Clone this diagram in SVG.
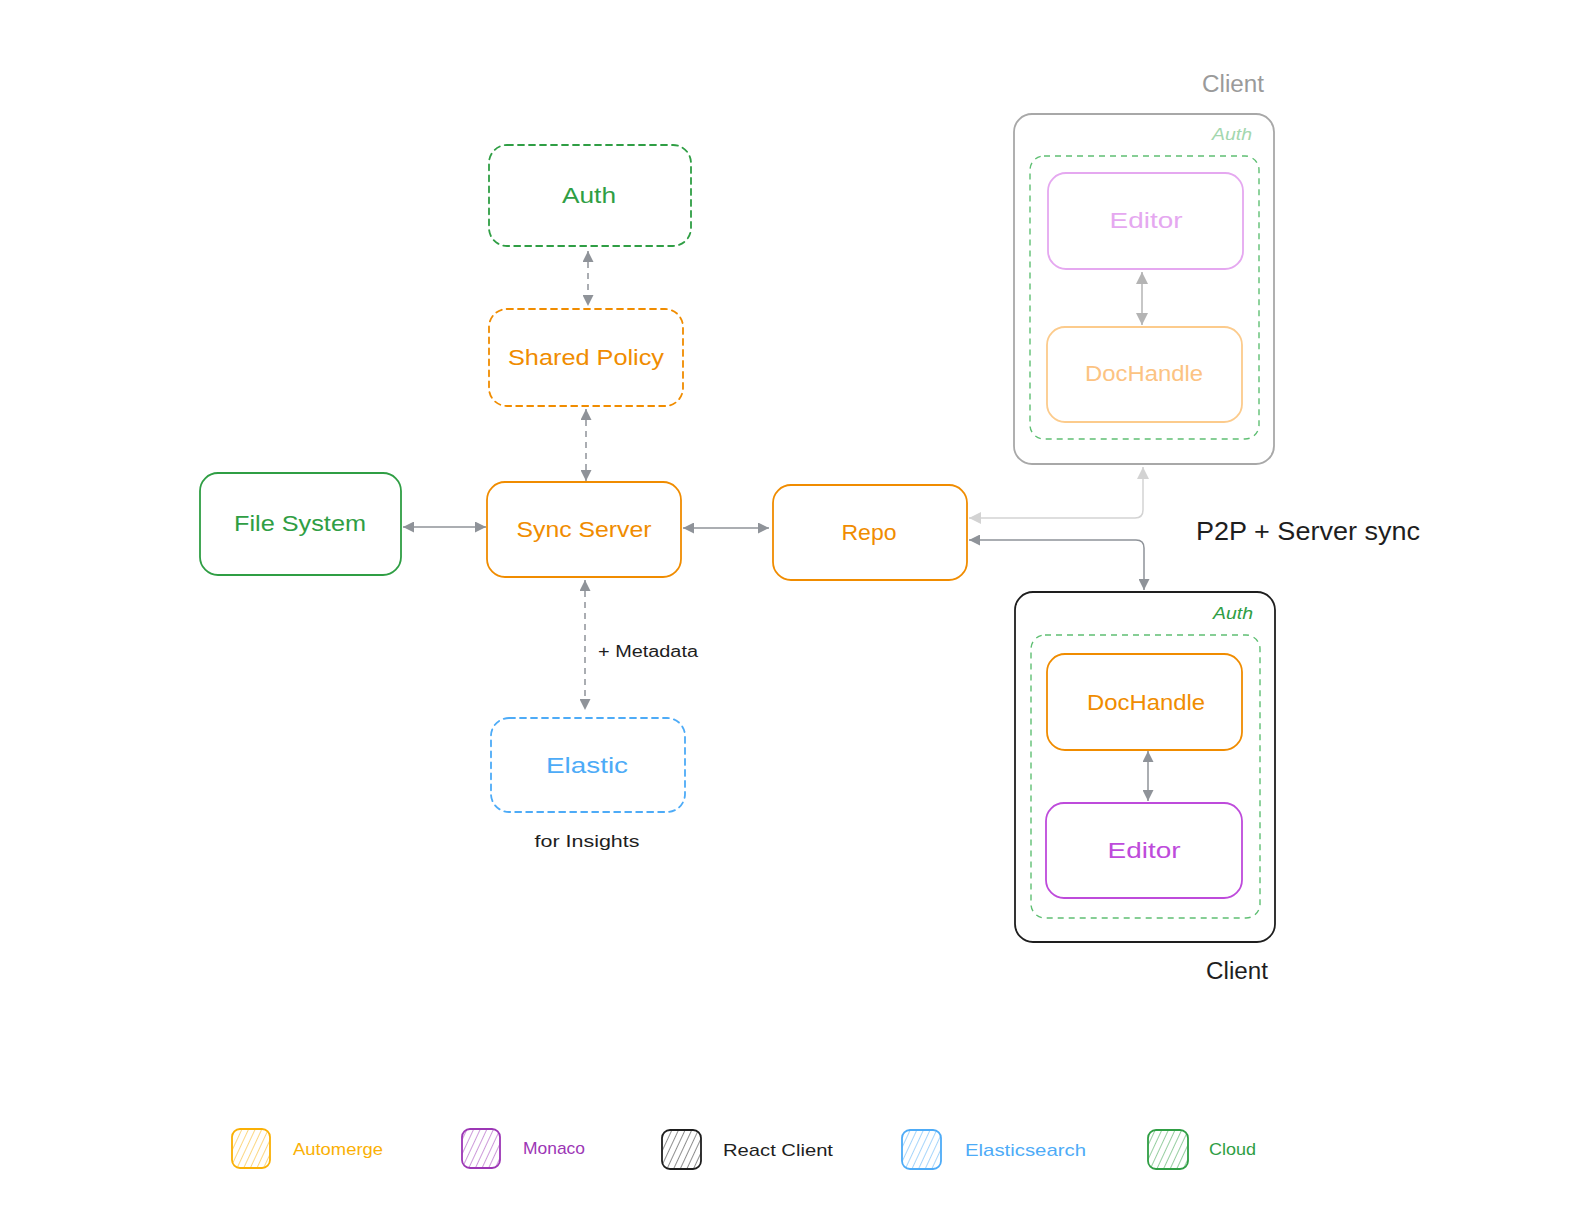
<svg xmlns="http://www.w3.org/2000/svg" width="1590" height="1219" viewBox="0 0 1590 1219">
<style>
text{font-family:"Liberation Sans","DejaVu Sans",sans-serif;text-anchor:middle;dominant-baseline:central}
.box{fill:none;stroke-width:1.8;stroke-linecap:round}
.dash{stroke-dasharray:6 5}
.orange{stroke:#f08c00}.t-orange{fill:#f08c00}
.green{stroke:#2f9e44}.t-green{fill:#2f9e44}
.blue{stroke:#4dabf7}.t-blue{fill:#4dabf7}
.purple{stroke:#be4bdb}.t-purple{fill:#be4bdb}
.lbl{font-size:22px}
.conn{fill:none;stroke:#8f9399;stroke-width:1.5}
.conn.light{stroke:#d3d3d3}
.conn.mid{stroke:#b4b4b4}
.leg{font-size:17px;text-anchor:start}
</style>
<defs>
<marker id="ah" viewBox="0 0 10 10" refX="10" refY="5" markerWidth="11" markerHeight="11" markerUnits="userSpaceOnUse" orient="auto-start-reverse"><path d="M0,0 L10,5 L0,10 z" fill="#8f9399"/></marker>
<marker id="ahl" viewBox="0 0 10 10" refX="10" refY="5" markerWidth="12" markerHeight="12" markerUnits="userSpaceOnUse" orient="auto-start-reverse"><path d="M0,0 L10,5 L0,10 z" fill="#d3d3d3"/></marker>
<marker id="ahm" viewBox="0 0 10 10" refX="10" refY="5" markerWidth="12" markerHeight="12" markerUnits="userSpaceOnUse" orient="auto-start-reverse"><path d="M0,0 L10,5 L0,10 z" fill="#b4b4b4"/></marker>
<pattern id="h-y" width="6" height="6" patternUnits="userSpaceOnUse" patternTransform="rotate(25)"><line x1="0" y1="0" x2="0" y2="6" stroke="#fab005" stroke-width="1"/></pattern>
<pattern id="h-p" width="6" height="6" patternUnits="userSpaceOnUse" patternTransform="rotate(25)"><line x1="0" y1="0" x2="0" y2="6" stroke="#9c36b5" stroke-width="1"/></pattern>
<pattern id="h-k" width="6" height="6" patternUnits="userSpaceOnUse" patternTransform="rotate(25)"><line x1="0" y1="0" x2="0" y2="6" stroke="#1e1e1e" stroke-width="1"/></pattern>
<pattern id="h-b" width="6" height="6" patternUnits="userSpaceOnUse" patternTransform="rotate(25)"><line x1="0" y1="0" x2="0" y2="6" stroke="#4dabf7" stroke-width="1"/></pattern>
<pattern id="h-g" width="6" height="6" patternUnits="userSpaceOnUse" patternTransform="rotate(25)"><line x1="0" y1="0" x2="0" y2="6" stroke="#2f9e44" stroke-width="1"/></pattern>
</defs>
<rect width="1590" height="1219" fill="#ffffff"/>

<g id="connectors">
<line class="conn dash" x1="588" y1="251" x2="588" y2="306" marker-start="url(#ah)" marker-end="url(#ah)"/>
<line class="conn dash" x1="586" y1="409" x2="586" y2="481" marker-start="url(#ah)" marker-end="url(#ah)"/>
<line class="conn" x1="403" y1="527" x2="486" y2="527" marker-start="url(#ah)" marker-end="url(#ah)"/>
<line class="conn" x1="683" y1="528" x2="769" y2="528" marker-start="url(#ah)" marker-end="url(#ah)"/>
<line class="conn dash" x1="585" y1="580" x2="585" y2="710" marker-start="url(#ah)" marker-end="url(#ah)"/>
<path class="conn light" d="M1143,467 L1143,510 Q1143,518 1135,518 L969,518" marker-start="url(#ahl)" marker-end="url(#ahl)"/>
<path class="conn" d="M969,540 L1136,540 Q1144,540 1144,548 L1144,590" marker-start="url(#ah)" marker-end="url(#ah)"/>
<line class="conn mid" x1="1142" y1="272" x2="1142" y2="325" stroke-width="2" marker-start="url(#ahm)" marker-end="url(#ahm)"/>
<line class="conn" x1="1148" y1="751" x2="1148" y2="801" stroke-width="2" marker-start="url(#ah)" marker-end="url(#ah)"/>
</g>

<g id="auth">
<rect class="box green dash" x="489" y="145" width="202" height="101" rx="18"/>
<text class="lbl t-green" x="589" y="195" textLength="54" lengthAdjust="spacingAndGlyphs">Auth</text>
</g>
<g id="shared-policy">
<rect class="box orange dash" x="489" y="309" width="194" height="97" rx="18"/>
<text class="lbl t-orange" x="586" y="357" textLength="156" lengthAdjust="spacingAndGlyphs">Shared Policy</text>
</g>
<g id="file-system">
<rect class="box green" x="200" y="473" width="201" height="102" rx="18"/>
<text class="lbl t-green" x="300" y="523" textLength="132" lengthAdjust="spacingAndGlyphs">File System</text>
</g>
<g id="sync-server">
<rect class="box orange" x="487" y="482" width="194" height="95" rx="18"/>
<text class="lbl t-orange" x="584" y="529" textLength="135" lengthAdjust="spacingAndGlyphs">Sync Server</text>
</g>
<g id="repo">
<rect class="box orange" x="773" y="485" width="194" height="95" rx="18"/>
<text class="lbl t-orange" x="869" y="532" textLength="55" lengthAdjust="spacingAndGlyphs">Repo</text>
</g>
<g id="elastic">
<rect class="box blue dash" x="491" y="718" width="194" height="94" rx="18"/>
<text class="lbl t-blue" x="587" y="765" textLength="82" lengthAdjust="spacingAndGlyphs">Elastic</text>
</g>
<g id="metadata-label">
<text x="648" y="651" font-size="16" fill="#1e1e1e" textLength="100" lengthAdjust="spacingAndGlyphs">+ Metadata</text>
</g>
<g id="insights-label">
<text x="587" y="841" font-size="17" fill="#1e1e1e" textLength="105" lengthAdjust="spacingAndGlyphs">for Insights</text>
</g>

<g id="client-top">
<text x="1233" y="84" font-size="23" fill="#9a9a9a" textLength="62" lengthAdjust="spacingAndGlyphs">Client</text>
<rect x="1014" y="114" width="260" height="350" rx="18" fill="none" stroke="#a8a8a8" stroke-width="1.8"/>
<text x="1232" y="134" font-size="16" font-style="italic" fill="#a3d7ae" textLength="40" lengthAdjust="spacingAndGlyphs">Auth</text>
<rect x="1030" y="156" width="229" height="283" rx="14" fill="none" stroke="#5fbf73" stroke-width="1.4" stroke-dasharray="6 5"/>
<g id="editor-top">
<rect x="1048" y="173" width="195" height="96" rx="18" fill="none" stroke="#e5a8f0" stroke-width="1.8"/>
<text class="lbl" x="1146" y="220" fill="#e5a8f0" textLength="73" lengthAdjust="spacingAndGlyphs">Editor</text>
</g>
<g id="dochandle-top">
<rect x="1047" y="327" width="195" height="95" rx="18" fill="none" stroke="#fccb8c" stroke-width="1.8"/>
<text class="lbl" x="1144" y="373" fill="#fcc382" textLength="118" lengthAdjust="spacingAndGlyphs">DocHandle</text>
</g>
</g>

<g id="p2p-label">
<text x="1308" y="531" font-size="26" fill="#1e1e1e" textLength="224" lengthAdjust="spacingAndGlyphs">P2P + Server sync</text>
</g>

<g id="client-bottom">
<rect x="1015" y="592" width="260" height="350" rx="18" fill="none" stroke="#1e1e1e" stroke-width="1.8"/>
<text x="1233" y="613" font-size="16" font-style="italic" fill="#2f9e44" textLength="40" lengthAdjust="spacingAndGlyphs">Auth</text>
<rect x="1031" y="635" width="229" height="283" rx="14" fill="none" stroke="#5fbf73" stroke-width="1.4" stroke-dasharray="6 5"/>
<g id="dochandle-bottom">
<rect class="box orange" x="1047" y="654" width="195" height="96" rx="18"/>
<text class="lbl t-orange" x="1146" y="702" textLength="118" lengthAdjust="spacingAndGlyphs">DocHandle</text>
</g>
<g id="editor-bottom">
<rect class="box purple" x="1046" y="803" width="196" height="95" rx="18"/>
<text class="lbl t-purple" x="1144" y="850" textLength="73" lengthAdjust="spacingAndGlyphs">Editor</text>
</g>
<text x="1237" y="971" font-size="23" fill="#1e1e1e" textLength="62" lengthAdjust="spacingAndGlyphs">Client</text>
</g>

<g id="legend">
<g id="legend-automerge">
<rect x="232" y="1129" width="38" height="39" rx="8" fill="url(#h-y)" stroke="#fab005" stroke-width="1.8"/>
<text class="leg" x="293" y="1149" fill="#fab005" textLength="90" lengthAdjust="spacingAndGlyphs">Automerge</text>
</g>
<g id="legend-monaco">
<rect x="462" y="1129" width="38" height="39" rx="8" fill="url(#h-p)" stroke="#9c36b5" stroke-width="1.8"/>
<text class="leg" x="523" y="1148" fill="#9c36b5" textLength="62" lengthAdjust="spacingAndGlyphs">Monaco</text>
</g>
<g id="legend-react">
<rect x="662" y="1130" width="39" height="39" rx="8" fill="url(#h-k)" stroke="#1e1e1e" stroke-width="1.8"/>
<text class="leg" x="723" y="1150" fill="#1e1e1e" textLength="110" lengthAdjust="spacingAndGlyphs">React Client</text>
</g>
<g id="legend-elasticsearch">
<rect x="902" y="1130" width="39" height="39" rx="8" fill="url(#h-b)" stroke="#4dabf7" stroke-width="1.8"/>
<text class="leg" x="965" y="1150" fill="#4dabf7" textLength="121" lengthAdjust="spacingAndGlyphs">Elasticsearch</text>
</g>
<g id="legend-cloud">
<rect x="1148" y="1130" width="40" height="39" rx="8" fill="url(#h-g)" stroke="#2f9e44" stroke-width="1.8"/>
<text class="leg" x="1209" y="1149" fill="#2f9e44" textLength="47" lengthAdjust="spacingAndGlyphs">Cloud</text>
</g>
</g>
</svg>
